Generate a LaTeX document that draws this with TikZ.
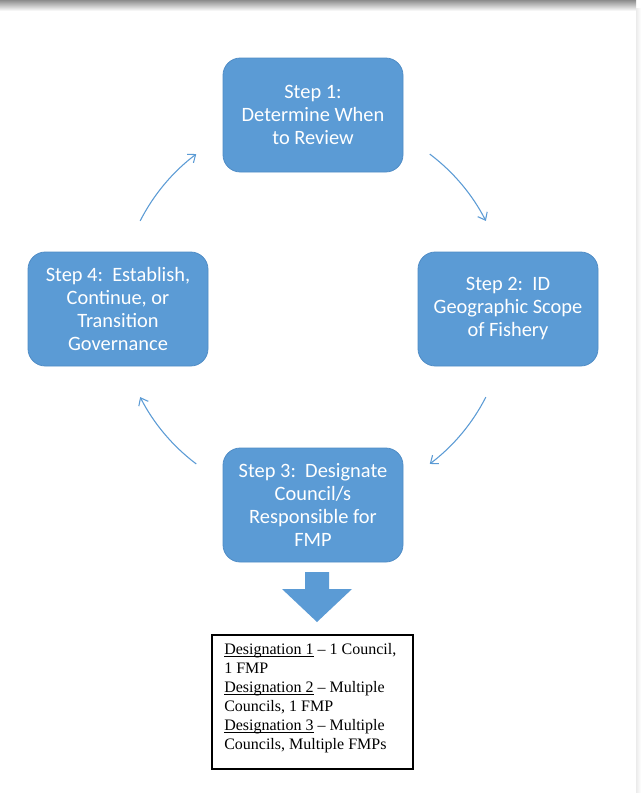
\documentclass[tikz,border=0pt]{standalone}
\usepackage{fontspec}
\setmainfont{Liberation Serif}
\newfontfamily\calib{Carlito}
\usetikzlibrary{arrows.meta,shapes.arrows}
\definecolor{stepblue}{HTML}{5B9BD5}
\definecolor{stepedge}{HTML}{4F8CC6}
\newcommand{\myul}[1]{{\setbox0\hbox{#1}\rlap{\rule[-1.6pt]{\wd0}{0.5pt}}\box0}}
\begin{document}
\begin{tikzpicture}[x=0.75pt,y=-0.75pt,
  stepbox/.style={fill=stepblue,draw=stepedge,line width=0.6pt,rounded corners=13pt,
     minimum width=135pt,minimum height=85.5pt,text=white,align=center,
     font=\calib\fontsize{15.3}{17.25}\selectfont,inner sep=0pt},
  cyc/.style={draw=stepblue,line width=0.8pt,-{Straight Barb[length=5pt,width=8pt]}}]
\useasboundingbox (0,0) rectangle (641,793);
\fill[white] (0,0) rectangle (641,793);
% page shadows
\shade[top color=black!45,bottom color=white] (0,0) rectangle (636,11);
\shade[left color=black!8,right color=white] (636,8) rectangle (641,793);
% steps
\node[stepbox] (s1) at (313,115) {Step 1:\\Determine When\\to Review};
\node[stepbox] (s2) at (508,309) {Step 2:\ \ ID\\Geographic Scope\\of Fishery};
\node[stepbox] (s3) at (313,505) {Step 3:\ \ Designate\\Council/s\\Responsible for\\FMP};
\node[stepbox] (s4) at (118,309) {Step 4:\ \ Establish,\\Continue, or\\Transition\\Governance};
% cycle arrows (arc of circle centred at (313,309), radius 194)
\coordinate (c) at (313,309);
\draw[cyc] ([shift={(53:194 and -194)}]c) arc[start angle=53,end angle=27,x radius=194,y radius=-194];
\draw[cyc] ([shift={(-27:194 and -194)}]c) arc[start angle=-27,end angle=-53,x radius=194,y radius=-194];
\draw[cyc] ([shift={(233:194 and -194)}]c) arc[start angle=233,end angle=207,x radius=194,y radius=-194];
\draw[cyc] ([shift={(153:194 and -194)}]c) arc[start angle=153,end angle=127,x radius=194,y radius=-194];
% block arrow down
\coordinate (a0) at (317,572);
\fill[stepblue] (305,572) -- (329,572) -- (329,589) -- (352,589) -- (317,622) -- (282,589) -- (305,589) -- cycle;
% designation box
\node[draw=black,line width=0.8pt,minimum width=150.75pt,minimum height=100.5pt,inner sep=0pt] (d) at (312.5,702) {};
\node[anchor=north west,align=left,inner sep=0pt,font=\fontsize{12}{14.3}\selectfont] (dt) at (224,643)
{\myul{Designation 1} -- 1 Council,\\1 FMP\\\myul{Designation 2} -- Multiple\\Councils, 1 FMP\\\myul{Designation 3} -- Multiple\\Councils, Multiple FMPs};
\end{tikzpicture}
\end{document}
